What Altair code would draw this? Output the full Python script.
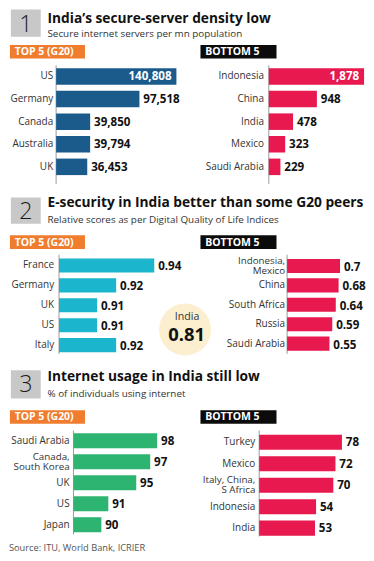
import altair as alt
import pandas as pd

# ---------------- data ----------------
section_numbers = ["1", "2", "3"]
section_titles = [
    "India\u2019s secure-server density low",
    "E-security in India better than some G20 peers",
    "Internet usage in India still low",
]
section_subtitles = [
    "Secure internet servers per mn population",
    "Relative scores as per Digital Quality of Life Indices",
    "% of individuals using internet",
]
tag_top = "TOP 5 (G20)"
tag_bottom = "BOTTOM 5"

p1_top_labels = ["US", "Germany", "Canada", "Australia", "UK"]
p1_top_values = [140808, 97518, 39850, 39794, 36453]
p1_bot_labels = ["Indonesia", "China", "India", "Mexico", "Saudi Arabia"]
p1_bot_values = [1878, 948, 478, 323, 229]

p2_top_labels = ["France", "Germany", "UK", "US", "Italy"]
p2_top_values = [0.94, 0.92, 0.91, 0.91, 0.92]
p2_bot_labels = ["Indonesia,\nMexico", "China", "South Africa", "Russia", "Saudi Arabia"]
p2_bot_values = [0.70, 0.68, 0.64, 0.59, 0.55]
india_label = "India"
india_score = 0.81

p3_top_labels = ["Saudi Arabia", "Canada,\nSouth Korea", "UK", "US", "Japan"]
p3_top_values = [98, 97, 95, 91, 90]
p3_bot_labels = ["Turkey", "Mexico", "Italy, China,\nS Africa", "Indonesia", "India"]
p3_bot_values = [78, 72, 70, 54, 53]

source_text = "Source: ITU, World Bank, ICRIER"

# ---------------- layout helpers ----------------
W, H = 358, 545
SX = W / 372.0
SY = H / 561.0
FS = (SX + SY) / 2


def fx(x):
    return round(x * SX, 2)


def fy(y):
    return round(y * SY, 2)


def fs(s):
    return round(s * FS, 2)


FONT = "Open Sans"
BLUE = "#1b5b8c"
PINK = "#e8194f"
TEAL = "#1bb6cd"
GREEN = "#2eb471"
ORANGE = "#f07c2e"
BLACK = "#0b0b0b"
GREYBOX = "#c8c8c8"
AXIS = "#9c9c9c"
LH = 10.2

one = pd.DataFrame({"k": [0]})


def rect(x0, y0, x1, y1, color):
    return alt.Chart(one).mark_rect(color=color).encode(
        x=alt.value(fx(x0)), x2=alt.value(fx(x1)),
        y=alt.value(fy(y0)), y2=alt.value(fy(y1)))


def label(text, x, y, size, weight="normal", color="#222", align="left", baseline="middle", font=FONT):
    return alt.Chart(one).mark_text(
        align=align, baseline=baseline, font=font, fontSize=fs(size),
        fontWeight=weight, color=color).encode(
        x=alt.value(fx(x)), y=alt.value(fy(y)), text=alt.value(text))


def header(i, box_top, box_bot, num_mid, title_base, sub_mid, tag_top_y, tag_bot_y):
    tag_mid = (tag_top_y + tag_bot_y) / 2
    return [
        rect(3, box_top, 34, box_bot, GREYBOX),
        label(section_numbers[i], 18.5, num_mid, 24, weight=300, color="#1a1a1a", align="center"),
        label(section_titles[i], 41, title_base, 14.2, weight="bold", color="#111", baseline="alphabetic"),
        label(section_subtitles[i], 41, sub_mid, 10.2, color="#333"),
        rect(2, tag_top_y, 80, tag_bot_y, ORANGE),
        label(tag_top, 7, tag_mid + 0.5, 10.8, weight="bold", color="white"),
        rect(200, tag_top_y, 279, tag_bot_y, BLACK),
        label(tag_bottom, 205, tag_mid + 0.5, 10.8, weight="bold", color="white"),
    ]


def panel(labels, values, fmt, color, domain, xr, first_center, step, bar_h,
          axis_top, axis_bot, label_x, inside_first=False, vdy=1):
    df = pd.DataFrame({"label": labels, "value": values})
    df["inside"] = [bool(inside_first and i == 0) for i in range(len(df))]
    p = 1 - bar_h / step
    r0 = first_center - step / 2
    r1 = r0 + step * len(labels)
    xs = alt.Scale(domain=list(domain), range=[fx(xr[0]), fx(xr[1])], zero=False, nice=False)
    x = alt.X("value:Q", scale=xs, axis=None)
    y = alt.Y("label:N", sort=None,
              scale=alt.Scale(range=[fy(r0), fy(r1)], paddingInner=p, paddingOuter=p / 2),
              axis=None)
    base = alt.Chart(df)
    rule = alt.Chart(pd.DataFrame({"value": [domain[0]]})).mark_rule(
        color=AXIS, strokeWidth=1).encode(
        x=x, y=alt.value(fy(axis_top)), y2=alt.value(fy(axis_bot)))
    bars = base.mark_bar(color=color).encode(x=x, x2=alt.X2(datum=domain[0]), y=y)
    vals_out = base.transform_filter("!datum.inside").mark_text(
        align="left", baseline="middle", dx=fs(4), dy=vdy, font=FONT, fontSize=fs(12),
        fontWeight="bold", color="#111").encode(
        x=x, y=y, text=alt.Text("value:Q", format=fmt))
    vals_in = base.transform_filter("datum.inside").mark_text(
        align="right", baseline="middle", dx=-fs(5), dy=0.5, font=FONT, fontSize=fs(12),
        fontWeight="bold", color="white").encode(
        x=x, y=y, text=alt.Text("value:Q", format=fmt))
    labs_single = base.transform_filter("indexof(datum.label, '\\n') < 0").mark_text(
        align="right", baseline="middle", font=FONT, fontSize=fs(10.3),
        color="#333").encode(
        x=alt.value(fx(label_x)), y=y, text="label:N")
    labs_multi = base.transform_filter("indexof(datum.label, '\\n') >= 0").mark_text(
        align="right", baseline="middle", lineBreak="\n", font=FONT, fontSize=fs(10.1),
        color="#333", lineHeight=fs(LH), dy=-fs(LH) / 2).encode(
        x=alt.value(fx(label_x)), y=y, text="label:N")
    return alt.layer(rule, bars, vals_out, vals_in, labs_single, labs_multi)


layers = []
layers += header(0, 1.5, 29.5, 18, 15, 27, 38, 52)
layers += header(1, 195, 222, 209.5, 204.5, 218.5, 234, 248)
layers += header(2, 373, 402, 388.5, 383.5, 397, 414, 428)

# India circle
circle = alt.Chart(one).mark_circle(color="#fcefd0", opacity=1).encode(
    x=alt.value(fx(184)), y=alt.value(fy(331)), size=alt.value((fx(54)) ** 2))
layers.append(circle)
layers.append(label(india_label, 186, 318.5, 11, color="#333", align="center"))
layers.append(alt.Chart(pd.DataFrame({"v": [india_score]})).mark_text(
    align="center", baseline="middle", font=FONT, fontSize=fs(19), fontWeight="bold",
    color="#111").encode(x=alt.value(fx(185.5)), y=alt.value(fy(336.5)),
                         text=alt.Text("v:Q", format=".2f")))

layers.append(label(source_text, 1, 556, 9.6, color="#555"))

panels = [
    panel(p1_top_labels, p1_top_values, ",d", BLUE, (0, 140808), (50, 175), 70.5, 23.25, 17,
          59, 181, 47, inside_first=True),
    panel(p1_bot_labels, p1_bot_values, ",d", PINK, (0, 1878), (271, 370), 70.5, 23.25, 17,
          59, 181, 266, inside_first=True),
    panel(p2_top_labels, p2_top_values, ".2~f", TEAL, (0.89, 0.94), (53, 152), 265, 20.5, 14.5,
          254, 356, 48, vdy=2),
    panel(p2_bot_labels, p2_bot_values, ".2~f", PINK, (-0.05, 0.70), (290, 345), 265.5, 20.0, 14.5,
          254, 356, 288, vdy=2),
    panel(p3_top_labels, p3_top_values, "d", GREEN, (86, 98), (68, 155), 445.5, 21.6, 15.5,
          435, 542, 64),
    panel(p3_bot_labels, p3_bot_values, "d", PINK, (1.2, 78), (261, 347), 447, 22.1, 15.5,
          435, 544, 257),
]

chart = alt.layer(*layers, *panels).resolve_scale(
    x="independent", y="independent"
).properties(
    width=W, height=H, padding=0, autosize=alt.AutoSizeParams(type="none"),
    background="white",
).configure_view(stroke=None)

chart.save("out.html", embed_options={"renderer": "svg", "actions": False})
